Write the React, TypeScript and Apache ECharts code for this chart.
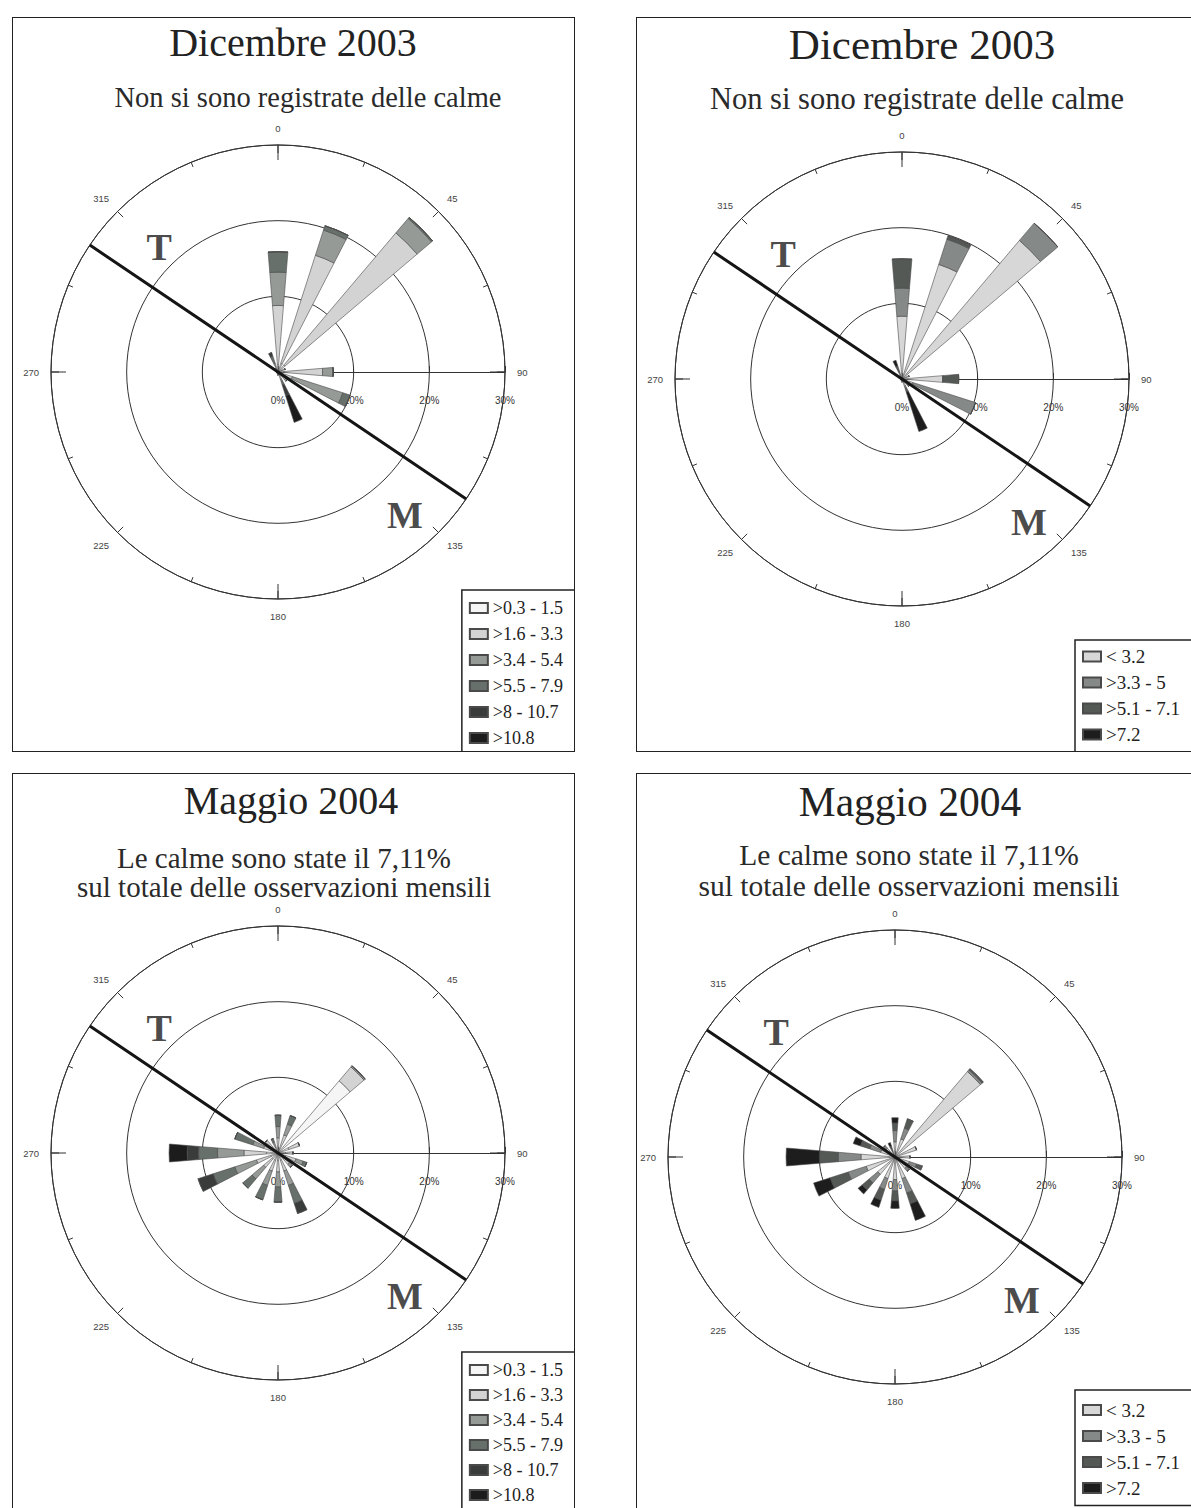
import React, { useEffect, useRef } from 'react';
import * as echarts from 'echarts';

// ---------- DATA ----------
const DIRECTIONS = ['N', 'NNE', 'NE', 'ENE', 'E', 'ESE', 'SE', 'SSE', 'S', 'SSW', 'SW', 'WSW', 'W', 'WNW', 'NW', 'NNW'];

const CLASSES_6 = ['>0.3 - 1.5', '>1.6 - 3.3', '>3.4 - 5.4', '>5.5 - 7.9', '>8 - 10.7', '>10.8'];
const CLASSES_4 = ['< 3.2', '>3.3 - 5', '>5.1 - 7.1', '>7.2'];

const PCT_TICKS = [0, 10, 20, 30];
const DEGREE_STEP = 45;

// Dicembre 2003 - 6 classes (% frequency per direction)
const DIC03_S1 = [1.0, 1.2, 1.2, 0.5, 0.8, 0.5, 0.5, 0.3, 0.4, 0.2, 0.2, 0.2, 0.2, 0.3, 0.3, 0.5];
const DIC03_S2 = [7.8, 15.0, 22.9, 0.5, 5.1, 1.5, 0.8, 0.7, 0, 0, 0, 0, 0, 0, 0.3, 0.3];
const DIC03_S3 = [4.4, 3.5, 2.5, 0, 1.4, 7.0, 0.3, 0.3, 0, 0, 0, 0, 0, 0, 0, 0.4];
const DIC03_S4 = [2.7, 0.6, 0.2, 0, 0, 1.0, 0, 0.5, 0, 0, 0, 0, 0, 0, 0, 1.0];
const DIC03_S5 = [0, 0, 0, 0, 0, 0, 0, 1.5, 0, 0, 0, 0, 0, 0, 0, 0.5];
const DIC03_S6 = [0, 0, 0, 0, 0, 0, 0, 3.7, 0, 0, 0, 0, 0, 0, 0, 0];

// Dicembre 2003 - 4 classes
const DIC03_K1 = [8.3, 15.9, 24.0, 1.0, 5.4, 1.5, 1.0, 1.0, 0.4, 0.2, 0.2, 0.2, 0.2, 0.4, 0.5, 0.6];
const DIC03_K2 = [3.7, 3.5, 3.0, 0, 0, 8.7, 0.3, 0.3, 0, 0, 0, 0, 0, 0, 0, 0.4];
const DIC03_K3 = [3.9, 0.5, 0, 0, 2.1, 0, 0, 0.5, 0, 0, 0, 0, 0, 0, 0, 0.8];
const DIC03_K4 = [0, 0, 0, 0, 0, 0, 0, 5.5, 0, 0, 0, 0, 0, 0, 0, 0.8];

// Maggio 2004 - 6 classes
const MAG04_S1 = [0.5, 0.5, 12.5, 1.5, 1.0, 1.0, 1.0, 1.0, 1.0, 1.0, 1.0, 1.0, 1.5, 1.0, 1.0, 0.5];
const MAG04_S2 = [1.5, 2.0, 2.4, 1.5, 1.0, 1.5, 1.0, 1.5, 1.5, 1.5, 1.5, 2.0, 3.0, 1.0, 1.2, 0.3];
const MAG04_S3 = [1.5, 1.5, 0.2, 0, 0, 1.0, 0.5, 2.0, 2.0, 2.0, 2.0, 3.0, 3.5, 1.5, 0, 0.7];
const MAG04_S4 = [1.5, 1.2, 0, 0, 0, 0.5, 0, 2.5, 2.0, 2.0, 1.6, 3.0, 2.5, 2.5, 0, 0.5];
const MAG04_S5 = [0, 0, 0, 0, 0, 0, 0, 1.4, 0, 0, 0, 2.1, 1.5, 0, 0, 0];
const MAG04_S6 = [0, 0, 0, 0, 0, 0, 0, 0, 0, 0, 0, 0, 2.4, 0, 0, 0];

// Maggio 2004 - 4 classes
const MAG04_K1 = [2.0, 2.5, 14.8, 3.0, 2.0, 2.0, 2.0, 3.0, 3.0, 3.0, 3.0, 4.0, 4.5, 2.0, 1.5, 0.5];
const MAG04_K2 = [1.5, 1.5, 0.3, 0, 0, 1.0, 0.5, 2.0, 1.5, 1.5, 1.5, 2.5, 3.0, 1.5, 0.5, 0.3];
const MAG04_K3 = [1.0, 1.3, 0.2, 0, 0, 0.8, 0, 1.5, 1.3, 1.5, 1.2, 2.5, 2.5, 1.3, 0, 0.7];
const MAG04_K4 = [0.7, 0, 0, 0, 0, 0, 0, 2.3, 1.0, 1.0, 0.7, 2.3, 4.4, 1.0, 0, 0.5];

// T - M reference line (bearing, degrees) and label positions [radius %, bearing]
const TM_BEARING = 124;
const T_LABEL_POS = [22.8, 316.5];
const M_LABEL_POS = [25.3, 138.5];

const TITLE_DIC = 'Dicembre 2003';
const SUB_DIC = 'Non si sono registrate delle calme';
const TITLE_MAG = 'Maggio 2004';
const SUB_MAG = 'Le calme sono state il 7,11%\nsul totale delle osservazioni mensili';

// ---------- STYLE ----------
const COLORS_6 = ['#f5f5f5', '#d3d3d3', '#959a97', '#67706b', '#3a3c3b', '#1c1c1c'];
const COLORS_4 = ['#d7d7d7', '#858987', '#545956', '#1d1d1d'];
const SERIF = '"Liberation Serif", "DejaVu Serif", serif';
const SANS = '"Liberation Sans", Arial, sans-serif';
const RADIUS_PX = 227;

const PANELS = [
  {
    key: 'p1', left: 12, top: 17, width: 563, height: 735, center: [266, 355],
    title: TITLE_DIC, sub: SUB_DIC, classes: CLASSES_6, colors: COLORS_6,
    values: [DIC03_S1, DIC03_S2, DIC03_S3, DIC03_S4, DIC03_S5, DIC03_S6],
    main: { size: 40, lh: 44, top: 3, cx: 281 },
    subt: { size: 28.5, lh: 32, top: 64, cx: 296 },
    legend: { right: 0, bottom: 0, itemGap: 8, padding: [9, 12, 5, 7], fontSize: 18 },
  },
  {
    key: 'p2', left: 636, top: 17, width: 570, height: 735, center: [266, 362],
    title: TITLE_DIC, sub: SUB_DIC, classes: CLASSES_4, colors: COLORS_4,
    values: [DIC03_K1, DIC03_K2, DIC03_K3, DIC03_K4],
    main: { size: 43, lh: 47, top: 3.5, cx: 286 },
    subt: { size: 30.5, lh: 34, top: 65, cx: 281 },
    legend: { left: 439, bottom: 0, itemGap: 7, padding: [7, 14, 8, 7], fontSize: 19 },
  },
  {
    key: 'p3', left: 12, top: 773, width: 563, height: 737, center: [266, 380],
    title: TITLE_MAG, sub: SUB_MAG, classes: CLASSES_6, colors: COLORS_6,
    values: [MAG04_S1, MAG04_S2, MAG04_S3, MAG04_S4, MAG04_S5, MAG04_S6],
    main: { size: 40, lh: 44, top: 5, cx: 279 },
    subt: { size: 29, lh: 29, top: 70.5, cx: 272 },
    legend: { right: 0, bottom: 0, itemGap: 7, padding: [9, 12, 6, 7], fontSize: 18 },
  },
  {
    key: 'p4', left: 636, top: 773, width: 570, height: 737, center: [259, 384],
    title: TITLE_MAG, sub: SUB_MAG, classes: CLASSES_4, colors: COLORS_4,
    values: [MAG04_K1, MAG04_K2, MAG04_K3, MAG04_K4],
    main: { size: 41.5, lh: 45, top: 6.5, cx: 274 },
    subt: { size: 29.5, lh: 31, top: 66.5, cx: 273 },
    legend: { left: 439, bottom: 4.5, itemGap: 7, padding: [10.5, 14, 8, 7], fontSize: 19 },
  },
];

function buildOption(p: any) {
  const polarBase = { center: p.center, radius: RADIUS_PX };
  const maxPct = PCT_TICKS[PCT_TICKS.length - 1];
  const pctStep = PCT_TICKS[1] - PCT_TICKS[0];
  const { fontSize: legendFont, ...legendPos } = p.legend;

  const bars = p.classes.map((name: string, i: number) => ({
    type: 'bar',
    name,
    coordinateSystem: 'polar',
    polarIndex: 0,
    stack: 'rose',
    barWidth: '42%',
    data: p.values[i],
    itemStyle: { color: p.colors[i], borderColor: '#4a4a4a', borderWidth: 0.6 },
    z: 3,
  }));

  return {
    animation: false,
    backgroundColor: '#ffffff',
    title: [
      {
        text: p.title,
        left: p.main.cx,
        textAlign: 'center',
        top: p.main.top,
        padding: 0,
        textStyle: { fontFamily: SERIF, fontSize: p.main.size, fontWeight: 'normal', color: '#222', lineHeight: p.main.lh },
      },
      {
        text: p.sub,
        left: p.subt.cx,
        textAlign: 'center',
        top: p.subt.top,
        padding: 0,
        textStyle: { fontFamily: SERIF, fontSize: p.subt.size, fontWeight: 'normal', color: '#2a2a2a', lineHeight: p.subt.lh },
      },
    ],
    legend: {
      ...legendPos,
      data: p.classes,
      orient: 'vertical',
      icon: 'rect',
      itemWidth: 18,
      itemHeight: 10,
      selectedMode: false,
      backgroundColor: '#fff',
      borderColor: '#222',
      borderWidth: 1.5,
      borderRadius: 0,
      textStyle: { fontFamily: SERIF, fontSize: legendFont, color: '#222', lineHeight: 16 },
    },
    polar: [polarBase, polarBase, polarBase, polarBase],
    angleAxis: [
      {
        polarIndex: 0, type: 'category', data: DIRECTIONS, startAngle: 90 + 360 / DIRECTIONS.length / 2,
        clockwise: true, boundaryGap: true,
        axisLine: { show: false }, axisTick: { show: false }, axisLabel: { show: false }, splitLine: { show: false },
      },
      {
        polarIndex: 1, type: 'value', min: 0, max: 360, startAngle: 0, show: false,
      },
      {
        polarIndex: 2, type: 'value', min: 0, max: 360, interval: DEGREE_STEP, startAngle: 90, clockwise: true,
        axisLine: { show: true, lineStyle: { color: '#333', width: 1 } },
        axisTick: { show: true, inside: true, length: 8, lineStyle: { color: '#333', width: 1 } },
        minorTick: { show: true, splitNumber: 2, length: 5, lineStyle: { color: '#333', width: 1 } },
        axisLabel: {
          show: true, margin: 12, fontSize: 9.5, fontFamily: SANS, color: '#444',
          formatter: (v: number) => (v >= 360 ? '' : String(v)),
        },
        splitLine: { show: false },
      },
      {
        polarIndex: 3, type: 'value', min: 0, max: 360, interval: 90, startAngle: 90, clockwise: true,
        axisLine: { show: false },
        axisTick: { show: true, inside: true, length: 15, lineStyle: { color: '#333', width: 1 } },
        axisLabel: { show: false }, splitLine: { show: false },
      },
    ],
    radiusAxis: [
      { polarIndex: 0, type: 'value', min: 0, max: maxPct, show: false },
      {
        polarIndex: 1, type: 'value', min: 0, max: maxPct, interval: pctStep,
        axisLine: { show: true, lineStyle: { color: '#333', width: 1 } },
        axisTick: { show: true, inside: true, length: 6, lineStyle: { color: '#333' } },
        axisLabel: { show: true, formatter: '{value}%', margin: -33, fontSize: 10, fontFamily: SANS, color: '#333' },
        splitLine: { show: true, lineStyle: { color: '#333', width: 1 } },
      },
      { polarIndex: 2, type: 'value', min: 0, max: maxPct, show: false },
      { polarIndex: 3, type: 'value', min: 0, max: maxPct, show: false },
    ],
    series: [
      ...bars,
      {
        type: 'line',
        name: 'T-M',
        coordinateSystem: 'polar',
        polarIndex: 2,
        data: [[maxPct, TM_BEARING + 180], [0, TM_BEARING], [maxPct, TM_BEARING]],
        symbol: 'none',
        lineStyle: { color: '#151515', width: 3 },
        z: 6,
        silent: true,
      },
      {
        type: 'scatter',
        name: 'labels',
        coordinateSystem: 'polar',
        polarIndex: 2,
        symbolSize: 1,
        itemStyle: { color: 'rgba(0,0,0,0)' },
        data: [
          { name: 'T', value: T_LABEL_POS },
          { name: 'M', value: M_LABEL_POS },
        ],
        label: {
          show: true, position: 'inside', formatter: '{b}',
          fontFamily: SERIF, fontWeight: 'bold', fontSize: 38, color: '#1a1a1a',
        },
        z: 7,
        silent: true,
      },
    ],
  };
}

function Panel({ p }: { p: any }) {
  const ref = useRef<HTMLDivElement>(null);
  useEffect(() => {
    const chart = echarts.init(ref.current as HTMLDivElement, null, { renderer: 'svg' });
    chart.setOption(buildOption(p));
    return () => chart.dispose();
  }, [p]);
  return (
    <div style={{ position: 'absolute', left: p.left, top: p.top, width: p.width, height: p.height }}>
      <div ref={ref} style={{ position: 'absolute', left: 0, top: 0, width: p.width, height: p.height }} />
      <div
        style={{
          position: 'absolute', left: 0, top: 0, width: p.width, height: p.height,
          border: '1.5px solid #222', boxSizing: 'border-box', pointerEvents: 'none',
        }}
      />
    </div>
  );
}

export default function App() {
  return (
    <div style={{ position: 'absolute', left: 0, top: 0, width: 1191, height: 1508, overflow: 'hidden', background: '#fff' }}>
      {PANELS.map((p) => (
        <Panel key={p.key} p={p} />
      ))}
    </div>
  );
}
